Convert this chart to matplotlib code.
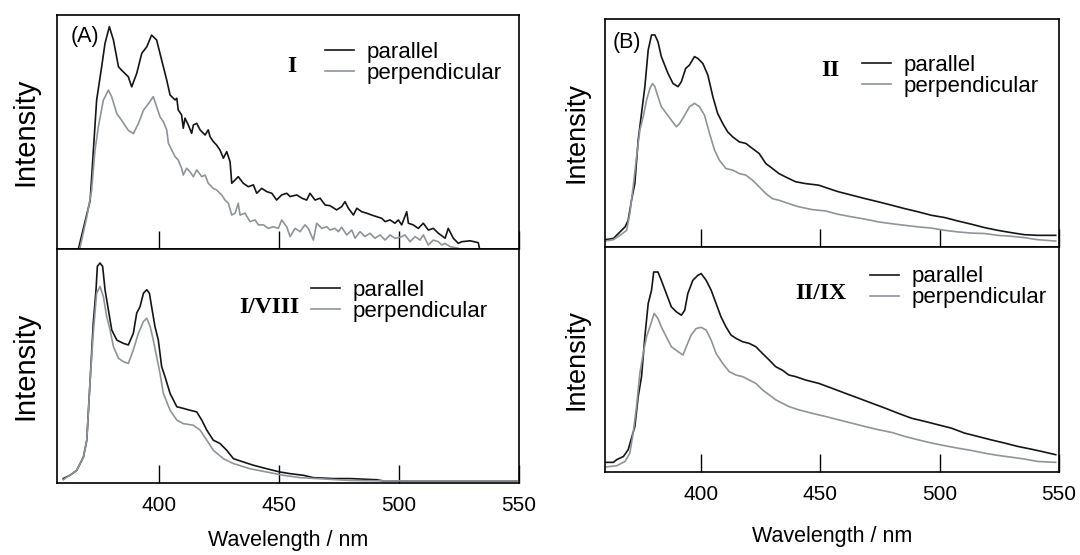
import matplotlib
matplotlib.use("Agg")
import matplotlib.pyplot as plt
from matplotlib.lines import Line2D

plt.rcParams['font.family'] = ['Liberation Sans', 'DejaVu Sans']

BLACK = "#151515"
GRAY = "#8e9499"

# ---- panel A, top (I) ----
a1_par_wl = [366.4, 371.3, 374.0, 376.1, 377.5, 379.3, 381.0, 383.1, 384.4, 387.2,
             388.6, 390.7, 392.8, 394.9, 396.9, 399.0, 401.1, 403.2, 404.6, 406.7,
             407.4, 408.0, 409.4, 410.1, 410.8, 412.2, 413.6, 414.3, 415.7, 417.1,
             419.2, 420.5, 421.25, 422.6, 424.0, 425.4, 426.8, 428.2, 429.6, 430.3,
             431.7, 433.0, 435.1, 437.2, 439.3, 440.7, 442.8, 444.9, 447.0, 449.0,
             451.1, 453.2, 454.6, 457.4, 459.5, 461.5, 462.9, 465.0, 467.1, 469.2,
             471.25, 474.0, 476.1, 477.5, 478.9, 481.0, 482.4, 484.5, 486.5, 488.6,
             490.7, 492.8, 494.2, 496.25, 498.3, 499.7, 501.1, 503.2, 503.9, 505.9,
             508.0, 510.1, 512.2, 514.3, 516.4, 519.2, 520.5, 522.6, 524.7, 526.1,
             529.6, 533.0, 533.5]
a1_par = [0, 20.7, 63.6, 77.9, 87.9, 95, 89.3, 77.9, 76.4, 73.6,
          69.3, 75, 83.6, 86.4, 91.4, 89.3, 80.7, 72.2, 65.8, 63.7,
          64.4, 59.4, 57.3, 51.6, 55.9, 53.0, 49.4, 53.0, 53.7, 50.9,
          48.7, 50.9, 48.0, 45.9, 44.4, 42.3, 38.8, 41.6, 37.3, 28.1,
          29.5, 30.9, 28.1, 26.6, 27.4, 23.8, 25.9, 24.5, 23.8, 20.9,
          23.1, 23.8, 22.4, 23.1, 21.7, 20.9, 23.8, 20.9, 21.7, 18.8,
          18.5, 16.7, 18.1, 20.2, 17.4, 14.5, 17.4, 15.9, 15.3, 14.5,
          13.8, 13.1, 11.7, 12.4, 11.0, 12.4, 10.3, 15.9, 11.0, 10.3,
          8.8, 11.0, 8.1, 8.8, 6.7, 4.6, 8.8, 4.6, 2.4, 3.1,
          3.5, 2.7, 0.3]
a1_perp_wl = [367.1, 369.9, 371.9, 373.3, 374.7, 376.8, 378.9, 380.3, 382.4, 384.4,
              387.2, 389.3, 391.4, 393.5, 395.6, 397.6, 399.0, 400.4, 401.8, 403.2,
              403.9, 405.3, 406.7, 408.0, 409.4, 410.1, 411.5, 412.9, 414.3, 415.7,
              417.8, 419.2, 420.5, 422.6, 424.0, 426.1, 427.5, 428.9, 430.3, 431.7,
              433.0, 433.75, 435.8, 437.9, 440.0, 441.4, 443.5, 445.5, 447.6, 449.7,
              451.1, 453.2, 454.6, 456.7, 458.75, 460.8, 462.2, 464.3, 465.7, 467.8,
              469.9, 471.25, 473.3, 474.7, 476.1, 478.2, 480.3, 481.7, 483.75, 485.8,
              487.9, 490.0, 492.1, 494.2, 496.25, 498.3, 500.4, 502.5, 504.6, 506.7,
              508.75, 510.1, 512.2, 514.3, 516.4, 517.8, 519.2, 521.25, 524.7]
a1_perp = [0.7, 13.6, 25, 42.1, 52.1, 63.6, 67.9, 65, 57.9, 55,
           50.7, 49.3, 53.6, 59.3, 62.1, 65.1, 60.8, 56.5, 54.4, 50.9,
           45.2, 42.3, 39.4, 38.0, 34.5, 31.6, 34.5, 33.0, 30.9, 33.8,
           30.9, 31.6, 28.1, 25.9, 25.2, 23.1, 20.9, 19.5, 14.5, 15.3,
           19.5, 14.5, 15.3, 11.7, 12.4, 10.3, 10.3, 8.8, 9.5, 8.8,
           12.4, 9.5, 5.3, 8.8, 7.4, 10.3, 8.8, 3.8, 11.0, 8.8,
           9.5, 8.1, 8.8, 7.4, 9.3, 6.0, 8.1, 4.6, 7.4, 5.3,
           6.7, 4.6, 6.0, 3.8, 6.0, 4.6, 5.0, 6.0, 3.1, 5.3,
           3.8, 6.0, 1.7, 3.8, 3.1, 1.7, 2.4, 1.0, 0.3]

# ---- panel A, bottom (I/VIII) ----
a2_par_wl = [360.1, 362.9, 365.7, 368.5, 369.9, 371.3, 372.6, 373.75, 374.3, 375.4, 376.5, 377.5, 378.9,
             380.3, 382.4, 385.1, 387.2, 389.3, 390.7, 392.1, 393.5, 394.9, 396.0, 396.9, 398.3, 399.7,
             401.1, 402.5, 404.6, 407.4, 410.1, 412.9, 415.7, 417.8, 419.9, 422.6, 425.4, 428.2, 431.0,
             435.1, 439.3, 444.9, 450.4, 454.6, 460.1, 464.3, 472.6, 479.6, 490.7, 493.5, 549.0]
a2_par = [1.9, 3.3, 5.4, 11.1, 18.3, 44, 68.3, 82.6, 92.6, 94, 92.6, 82.6, 74, 65.4, 61.1, 59.7, 59, 64,
          72.6, 75.4, 81.1, 82.6, 81.1, 75.4, 66.9, 61.1, 49.7, 45.4, 38.3, 32.6, 31.9, 31.1, 30.4, 26.9,
          22.6, 18.3, 16.9, 14, 10.4, 9, 7.6, 6.1, 4.7, 4, 3.3, 2.3, 1.9, 1.9, 1.4, 0.9, 0.9]
a2_perp_wl = [360.1, 365.7, 368.5, 369.9, 371.3, 372.6, 374.0, 375.4, 376.8, 378.2, 379.6, 381.0, 383.1,
              385.1, 387.2, 389.3, 391.4, 393.5, 394.9, 396.3, 397.6, 399.0, 400.4, 401.8, 404.6, 407.4,
              410.1, 414.3, 417.1, 419.9, 422.6, 426.8, 431.0, 437.9, 444.9, 451.8, 458.8, 465.7, 479.6,
              493.5, 549.0]
a2_perp = [1.4, 5.4, 11.1, 18.3, 44, 64, 81.1, 84, 79.7, 71.1, 65.4, 58.3, 53.3, 51.9, 51.1, 56.9, 64, 69,
           70.4, 66.9, 61.1, 54, 46.9, 38.3, 31.1, 26.9, 25.4, 24.7, 22.6, 18.3, 14, 10.4, 8.3, 6.1, 4.7,
           3.3, 2.3, 1.9, 1.1, 0.9, 0.9]

# ---- panel B, top (II) ----
b1_par_wl = [359.7, 363.2, 365.3, 368.1, 369.4, 370.8, 372.2, 373.6, 375.0, 376.4, 377.8, 379.2, 380.6,
             381.9, 383.3, 384.7, 386.1, 388.2, 390.3, 391.7, 393.5, 395.1, 397.2, 398.6, 400.7, 402.8,
             404.9, 406.9, 409.0, 411.1, 413.2, 416.0, 418.75, 421.5, 424.3, 427.1, 429.9, 432.6, 435.4,
             439.6, 443.75, 449.3, 453.5, 457.6, 463.2, 468.75, 474.3, 479.9, 485.4, 491.0, 496.5, 502.1,
             507.6, 513.2, 518.75, 524.3, 529.9, 535.4, 541.0, 548.6]
b1_par = [3.2, 3.7, 5.9, 8.8, 11.7, 20.5, 27.8, 46.9, 58.6, 70.3, 86.4, 93.0, 93.0, 90.0, 83.5, 79.8, 76.1,
          71.7, 70.3, 72.5, 78.3, 79.8, 83.5, 82.7, 80.5, 75.4, 65.9, 58.6, 54.2, 50.5, 48.3, 46.1, 45.4,
          43.2, 41.0, 36.6, 34.4, 32.2, 30.7, 28.6, 27.8, 27.1, 25.6, 24.2, 22.7, 21.2, 19.8, 18.3, 16.8,
          15.4, 13.9, 12.9, 11.4, 10.0, 8.5, 7.3, 6.3, 5.4, 5.1, 5.1]
b1_perp_wl = [359.7, 363.2, 366.0, 368.75, 370.1, 371.5, 372.9, 374.3, 375.7, 377.1, 378.5, 379.6, 380.6,
              381.9, 383.3, 385.4, 387.5, 389.6, 391.0, 393.1, 395.1, 397.2, 399.3, 401.4, 403.5, 405.6,
              407.6, 410.4, 413.2, 416.0, 418.75, 421.5, 424.3, 427.1, 429.9, 432.6, 436.8, 441.0, 446.5,
              452.1, 457.6, 463.2, 468.75, 474.3, 479.9, 485.4, 491.0, 496.5, 502.1, 507.6, 513.2, 518.75,
              524.3, 529.9, 535.4, 541.0, 548.6]
b1_perp = [2.6, 3.2, 5.1, 7.3, 14.6, 26.4, 39.5, 51.2, 57.1, 64.4, 69.5, 71.7, 70.3, 65.9, 61.5, 58.6, 55.6,
           52.7, 54.2, 57.8, 61.5, 63.0, 61.5, 57.8, 49.8, 42.5, 38.1, 34.4, 33.7, 32.2, 31.5, 29.3, 26.4,
           23.4, 21.2, 20.5, 19.0, 17.6, 16.4, 15.8, 14.3, 13.2, 12.2, 11.0, 10.2, 9.5, 8.8, 8.3, 7.3, 6.6,
           6.1, 5.9, 5.1, 4.7, 4.1, 3.2, 2.6]

# ---- panel B, bottom (II/IX) ----
b2_par_wl = [359.7, 363.2, 364.6, 367.4, 369.4, 370.8, 372.2, 373.6, 375.0, 376.4, 377.8, 379.2, 380.1,
             381.9, 383.3, 385.4, 387.5, 389.6, 391.7, 393.1, 394.4, 396.5, 398.6, 400.0, 402.1, 404.2,
             406.25, 408.3, 410.4, 412.5, 414.6, 417.4, 420.1, 422.9, 425.7, 428.5, 431.25, 434.0, 436.8,
             439.6, 443.75, 449.3, 454.9, 460.4, 466.0, 471.5, 477.1, 482.6, 488.2, 493.75, 499.3, 504.9,
             510.4, 516.0, 521.5, 527.1, 532.6, 538.2, 543.75, 548.6]
b2_par = [4.3, 4.3, 5.5, 6.9, 9.9, 15.1, 20.2, 33.5, 42.4, 60.1, 74.9, 80.8, 88.9, 88.9, 85.2, 79.3, 73.4,
          71.2, 69.7, 71.9, 79.3, 85.2, 87.4, 88.2, 85.2, 80.8, 74.9, 69.0, 64.5, 60.9, 59.4, 57.9, 57.2,
          55.7, 52.7, 49.8, 46.8, 45.3, 43.1, 42.4, 40.9, 39.4, 37.2, 35.0, 32.8, 30.6, 28.4, 26.1, 23.9,
          22.5, 21.0, 19.5, 17.3, 15.8, 14.3, 12.9, 11.4, 10.2, 8.9, 7.7]
b2_perp_wl = [359.7, 364.6, 368.1, 370.1, 371.5, 372.9, 374.3, 375.7, 377.1, 378.5, 380.3, 381.9, 383.3,
              385.4, 387.5, 390.3, 392.4, 393.75, 395.8, 397.9, 400.0, 402.1, 404.2, 406.25, 409.0, 411.8,
              414.6, 417.4, 420.1, 422.9, 425.7, 428.5, 431.25, 434.0, 436.8, 441.0, 446.5, 452.1, 457.6,
              463.2, 468.75, 474.3, 479.9, 485.4, 491.0, 496.5, 502.1, 507.6, 513.2, 518.75, 524.3, 529.9,
              535.4, 541.0, 548.6]
b2_perp = [2.2, 2.8, 4.7, 8.4, 17.3, 29.1, 43.9, 52.7, 60.1, 64.5, 70.5, 68.2, 64.5, 60.1, 55.7, 53.5, 52.0,
           55.7, 60.9, 63.8, 64.3, 63.1, 58.6, 52.7, 48.3, 44.6, 43.1, 42.4, 40.9, 39.4, 36.5, 34.3, 32.1,
           30.6, 29.1, 27.6, 26.1, 24.7, 23.2, 21.7, 20.2, 18.8, 17.6, 15.8, 14.3, 12.9, 11.7, 10.6, 9.6,
           8.4, 7.4, 6.6, 5.8, 4.7, 4.3]

xticks = [400, 450, 500, 550]
series_names = ["parallel", "perpendicular"]

fig = plt.figure(figsize=(10.8, 5.55), dpi=100)


def make_panel(rect, xlim, par_wl, par, perp_wl, perp, name, name_pos, leg_pos, xlab_pad,
               ylab_size, ylab_pad):
  ax = fig.add_axes(rect)
  ax.plot(par_wl, par, color=BLACK, lw=1.2)
  ax.plot(perp_wl, perp, color=GRAY, lw=1.2)
  ax.set_xlim(*xlim)
  ax.set_ylim(0, 100)
  ax.set_yticks([])
  ax.set_xticks(xticks)
  bottom = xlab_pad is not None
  ax.tick_params(axis='x', direction='in', length=13, width=1.0, labelsize=15, pad=9,
                 labelbottom=bottom)
  for s in ax.spines.values():
    s.set_linewidth(1.2)
  ax.set_ylabel("Intensity", fontsize=ylab_size, labelpad=ylab_pad)
  ax.text(name_pos[0], name_pos[1], name, transform=ax.transAxes, ha='center', va='center',
          fontsize=17, fontweight='bold', family='Liberation Serif')
  handles = [Line2D([], [], color=BLACK, lw=1.2), Line2D([], [], color=GRAY, lw=1.2)]
  ax.legend(handles, series_names, loc='upper left', bbox_to_anchor=leg_pos, frameon=False,
            fontsize=16, handlelength=1.3, handletextpad=0.55, labelspacing=0.0,
            borderpad=0, borderaxespad=0)
  if bottom:
    ax.set_xlabel("Wavelength / nm", fontsize=15.5, labelpad=xlab_pad)
  return ax


axA1 = make_panel([0.0528, 0.5514, 0.4278, 0.4216], (357.5, 550), a1_par_wl, a1_par, a1_perp_wl, a1_perp,
                  "I", (0.509, 0.778), (0.580, 0.885), None, 21, 13)
axA2 = make_panel([0.0528, 0.1297, 0.4278, 0.4216], (357.5, 550), a2_par_wl, a2_par, a2_perp_wl, a2_perp,
                  "I/VIII", (0.459, 0.750), (0.550, 0.868), 11, 21, 13)
axB1 = make_panel([0.5602, 0.5550, 0.4204, 0.4108], (359.7, 550), b1_par_wl, b1_par, b1_perp_wl, b1_perp,
                  "II", (0.496, 0.776), (0.566, 0.842), None, 19.5, 11)
axB2 = make_panel([0.5602, 0.1495, 0.4204, 0.4054], (359.7, 550), b2_par_wl, b2_par, b2_perp_wl, b2_perp,
                  "II/IX", (0.476, 0.795), (0.584, 0.914), 16, 19.5, 11)

axA1.text(0.030, 0.906, "(A)", transform=axA1.transAxes, ha='left', va='center', fontsize=15.5)
axB1.text(0.016, 0.895, "(B)", transform=axB1.transAxes, ha='left', va='center', fontsize=15.5)

fig.savefig("out.png", dpi=100)
